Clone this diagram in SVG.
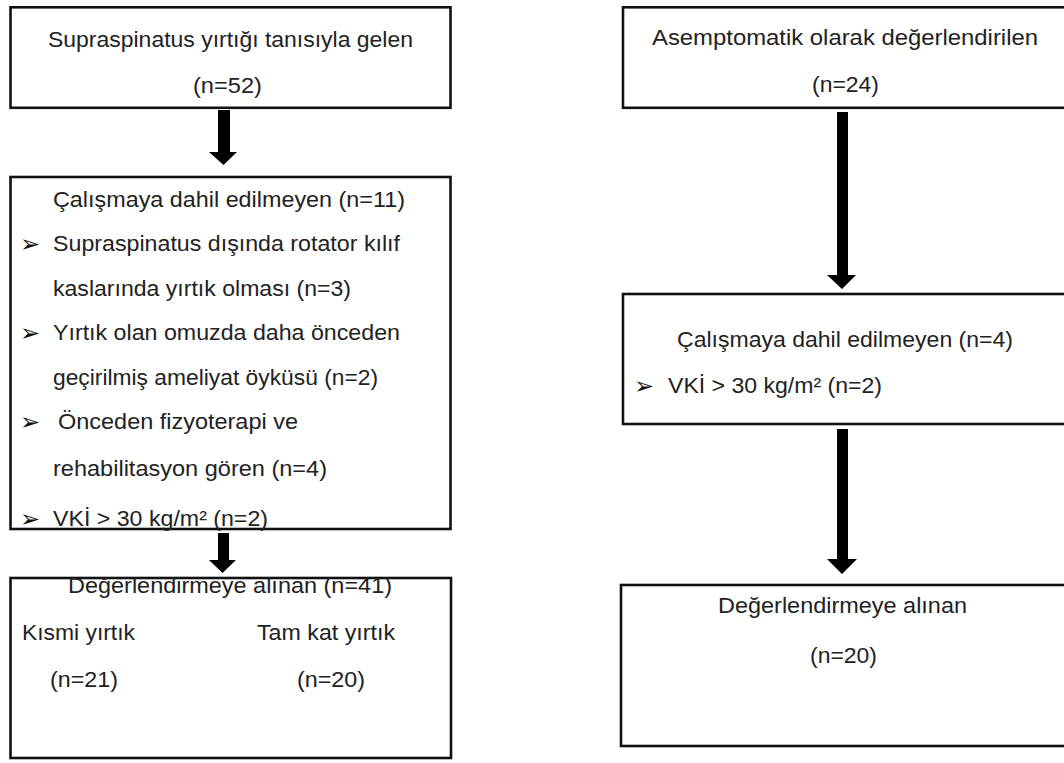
<svg xmlns="http://www.w3.org/2000/svg" width="1064" height="763" viewBox="0 0 1064 763">
<style>
.box{fill:#fff;stroke:#111;stroke-width:2.6}
.t{font-family:"Liberation Sans",Arial,sans-serif;font-size:22px;fill:#222}
.b{font-family:"DejaVu Sans",sans-serif;font-size:24px;fill:#111}
.arr{fill:#000}
</style>
<rect width="1064" height="763" fill="#fff"/>
<g id="connectors">
<polygon class="arr" points="218,110 230,110 230,152 237,152 223.5,165 209,152 218,152"/>
<polygon class="arr" points="218,533 229,533 229,560 236,560 222.5,573 209,560 218,560"/>
<polygon class="arr" points="837,112 848,112 848,275 856,275 842,289 827,275 837,275"/>
<polygon class="arr" points="837,429 848,429 848,559 857,559 842,574 827,559 837,559"/>
</g>
<g id="n1">
<rect class="box" x="10.5" y="7.3" width="440" height="100.5"/>
<text class="t" x="48" y="47" textLength="365" lengthAdjust="spacingAndGlyphs">Supraspinatus yırtığı tanısıyla gelen</text>
<text class="t" x="193" y="93" textLength="69" lengthAdjust="spacingAndGlyphs">(n=52)</text>
</g>
<g id="n2">
<rect class="box" x="10.5" y="177" width="440" height="352"/>
<text class="t" x="53" y="207" textLength="352" lengthAdjust="spacingAndGlyphs">Çalışmaya dahil edilmeyen (n=11)</text>
<text class="b" x="20" y="252">➢</text>
<text class="t" x="53" y="251" textLength="347" lengthAdjust="spacingAndGlyphs">Supraspinatus dışında rotator kılıf</text>
<text class="t" x="53" y="296" textLength="298" lengthAdjust="spacingAndGlyphs">kaslarında yırtık olması (n=3)</text>
<text class="b" x="20" y="341">➢</text>
<text class="t" x="53" y="340" textLength="347" lengthAdjust="spacingAndGlyphs">Yırtık olan omuzda daha önceden</text>
<text class="t" x="53" y="385" textLength="325" lengthAdjust="spacingAndGlyphs">geçirilmiş ameliyat öyküsü (n=2)</text>
<text class="b" x="20" y="430">➢</text>
<text class="t" x="58" y="429" textLength="240" lengthAdjust="spacingAndGlyphs">Önceden fizyoterapi ve</text>
<text class="t" x="53" y="476" textLength="274" lengthAdjust="spacingAndGlyphs">rehabilitasyon gören (n=4)</text>
<text class="b" x="20" y="527">➢</text>
<text class="t" x="53" y="526" textLength="215" lengthAdjust="spacingAndGlyphs">VKİ &gt; 30 kg/m² (n=2)</text>
</g>
<g id="n3">
<rect class="box" x="10.5" y="578" width="440.5" height="180"/>
<text class="t" x="68" y="593" textLength="324" lengthAdjust="spacingAndGlyphs">Değerlendirmeye alınan (n=41)</text>
<text class="t" x="22" y="640" textLength="113" lengthAdjust="spacingAndGlyphs">Kısmi yırtık</text>
<text class="t" x="257" y="640" textLength="138" lengthAdjust="spacingAndGlyphs">Tam kat yırtık</text>
<text class="t" x="50" y="687" textLength="68" lengthAdjust="spacingAndGlyphs">(n=21)</text>
<text class="t" x="297" y="687" textLength="68" lengthAdjust="spacingAndGlyphs">(n=20)</text>
</g>
<g id="n4">
<rect class="box" x="623" y="7.3" width="460" height="100.5"/>
<text class="t" x="652" y="45" textLength="386" lengthAdjust="spacingAndGlyphs">Asemptomatik olarak değerlendirilen</text>
<text class="t" x="812" y="92" textLength="67" lengthAdjust="spacingAndGlyphs">(n=24)</text>
</g>
<g id="n5">
<rect class="box" x="623" y="294" width="460" height="130"/>
<text class="t" x="677" y="347" textLength="336" lengthAdjust="spacingAndGlyphs">Çalışmaya dahil edilmeyen (n=4)</text>
<text class="b" x="634" y="394">➢</text>
<text class="t" x="668" y="393" textLength="214" lengthAdjust="spacingAndGlyphs">VKİ &gt; 30 kg/m² (n=2)</text>
</g>
<g id="n6">
<rect class="box" x="621" y="585" width="462" height="161"/>
<text class="t" x="718" y="613" textLength="249" lengthAdjust="spacingAndGlyphs">Değerlendirmeye alınan</text>
<text class="t" x="810" y="663" textLength="67" lengthAdjust="spacingAndGlyphs">(n=20)</text>
</g>
</svg>
